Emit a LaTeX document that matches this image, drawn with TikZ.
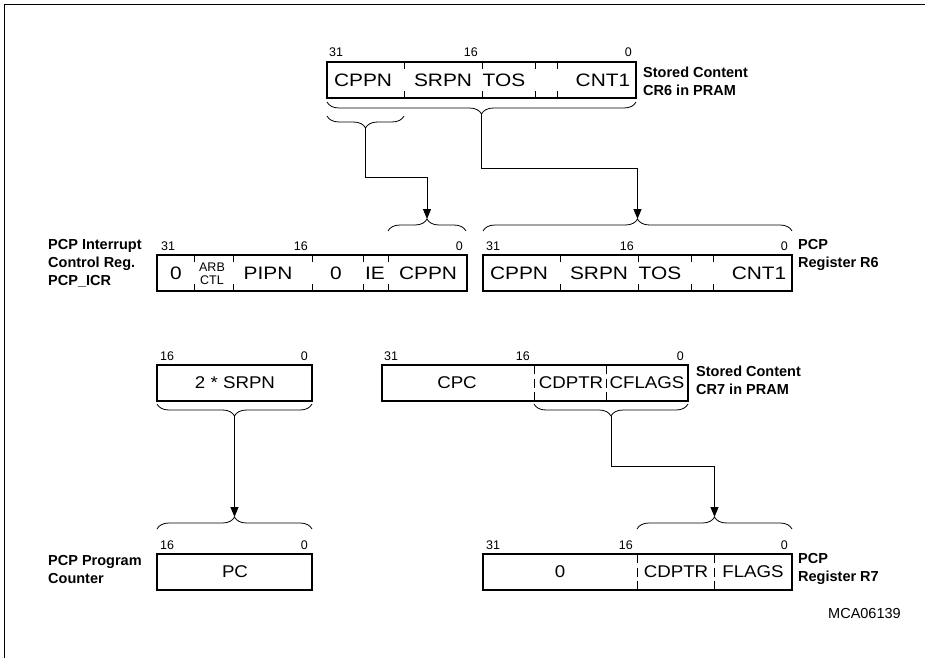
\documentclass[tikz,border=0pt]{standalone}
\usepackage{fontspec}
\setmainfont{Liberation Sans}
\newfontfamily\fieldfont[FakeStretch=1.1]{Liberation Sans}
\newfontfamily\widefont[FakeStretch=1.16]{Liberation Sans}
\usetikzlibrary{positioning,calc,arrows.meta,decorations.pathreplacing}

\begin{document}
\begin{tikzpicture}[x=1pt,y=-1pt,
  reg/.style={draw,line width=2.2pt,minimum height=36pt,inner sep=0pt},
  fld/.style={font=\fieldfont\fontsize{17}{20}\selectfont,inner sep=0pt},
  fldw/.style={font=\widefont\fontsize{18}{21}\selectfont,inner sep=0pt},
  arbtxt/.style={font=\fontsize{12.5}{12.5}\selectfont,inner sep=0pt,align=center},
  bit/.style={font=\fontsize{12.5}{14}\selectfont,inner sep=0pt},
  lbl/.style={font=\fontsize{14.5}{18}\selectfont\bfseries,align=left,inner sep=0pt,anchor=north west},
  tk/.style={line width=0.8pt},
  dsep/.style={line width=0.8pt,dash pattern=on 9pt off 4.5pt},
  brc/.style={decorate,decoration={brace,amplitude=12pt},line width=0.8pt},
  arr/.style={-{Triangle[length=10pt,width=8pt]},line width=0.9pt}]
  \useasboundingbox (0,0) rectangle (925,658);
  \draw[line width=0.9pt] (4,658) -- (4,4) -- (925,4);

  % stored content CR6
  \node[reg,minimum width=309pt] (cr6) at (481.5,80) {};
  \foreach \x in {404,482,535,557}
    \draw[tk] (\x,62) -- ++(0,7) (\x,98) -- ++(0,-7);
  \node[fldw] (cr6f1) at (363,80) {CPPN};
  \node[fldw] (cr6f2) at (443,80) {SRPN};
  \node[fldw] (cr6f3) at (504,80) {TOS};
  \node[fldw] (cr6f4) at (603,80) {CNT1};
  \node[bit,anchor=base west] (cr6b31) at (329,57) {31};
  \node[bit,anchor=base east] (cr6b16) at (478,57) {16};
  \node[bit,anchor=base east] (cr6b0)  at (632,57) {0};
  \node[lbl] (cr6lbl) at (643,67) {Stored Content\\CR6 in PRAM};
  \draw[brc] (636,102) -- (327,102);
  \coordinate (cr6tip) at (481.5,114);
  \draw[brc] (404,116) -- (327,116);
  \coordinate (cr6ltip) at (365.5,128);

  % PCP_ICR
  \node[reg,minimum width=310pt] (icr) at (312,273) {};
  \foreach \x in {194,233,312,363,388}
    \draw[tk] (\x,255) -- ++(0,7) (\x,291) -- ++(0,-7);
  \node[fldw] (icrf1) at (176,273) {0};
  \node[arbtxt] (icrf2) at (212,274) {ARB\\CTL};
  \node[fldw] (icrf3) at (268,273) {PIPN};
  \node[fldw] (icrf4) at (336,273) {0};
  \node[fldw] (icrf5) at (375,273) {IE};
  \node[fldw] (icrf6) at (428,273) {CPPN};
  \node[bit,anchor=base west] (icrb31) at (161,250) {31};
  \node[bit,anchor=base east] (icrb16) at (308,250) {16};
  \node[bit,anchor=base east] (icrb0)  at (463,250) {0};
  \node[lbl] (icrlbl) at (48,239) {PCP Interrupt\\Control Reg.\\PCP\_ICR};
  \draw[brc] (388,231) -- (466,231);
  \coordinate (icrtip) at (427,219);

  % PCP register R6
  \node[reg,minimum width=309pt] (r6) at (637.5,273) {};
  \foreach \x in {560,638,691,713}
    \draw[tk] (\x,255) -- ++(0,7) (\x,291) -- ++(0,-7);
  \node[fldw] (r6f1) at (519,273) {CPPN};
  \node[fldw] (r6f2) at (599,273) {SRPN};
  \node[fldw] (r6f3) at (660,273) {TOS};
  \node[fldw] (r6f4) at (759,273) {CNT1};
  \node[bit,anchor=base west] (r6b31) at (486,250) {31};
  \node[bit,anchor=base east] (r6b16) at (634,250) {16};
  \node[bit,anchor=base east] (r6b0)  at (788,250) {0};
  \node[lbl] (r6lbl) at (798,239) {PCP\\Register R6};
  \draw[brc] (483,231) -- (792,231);
  \coordinate (r6tip) at (637.5,219);

  % 2 * SRPN
  \node[reg,minimum width=155pt] (srpn) at (234.5,383) {};
  \node[fld] (srpnf) at (235,383) {2 * SRPN};
  \node[bit,anchor=base west] (srpnb16) at (160,360) {16};
  \node[bit,anchor=base east] (srpnb0)  at (308,360) {0};
  \draw[brc] (312,404) -- (157,404);
  \coordinate (srpntip) at (234.5,416);

  % stored content CR7
  \node[reg,minimum width=306pt] (cr7) at (535,383) {};
  \foreach \x in {534,606}
    \draw[dsep] (\x,365) -- (\x,401);
  \node[fld] (cr7f1) at (457,383) {CPC};
  \node[fld] (cr7f2) at (571,383) {CDPTR};
  \node[fld] (cr7f3) at (647,383) {CFLAGS};
  \node[bit,anchor=base west] (cr7b31) at (384,360) {31};
  \node[bit,anchor=base east] (cr7b16) at (530,360) {16};
  \node[bit,anchor=base east] (cr7b0)  at (684,360) {0};
  \node[lbl] (cr7lbl) at (696,366) {Stored Content\\CR7 in PRAM};
  \draw[brc] (688,404) -- (534,404);
  \coordinate (cr7tip) at (611,416);

  % program counter
  \node[reg,minimum width=155pt] (pc) at (234.5,572) {};
  \node[fld] (pcf) at (235,572) {PC};
  \node[bit,anchor=base west] (pcb16) at (160,549) {16};
  \node[bit,anchor=base east] (pcb0)  at (308,549) {0};
  \node[lbl] (pclbl) at (48,555) {PCP Program\\Counter};
  \draw[brc] (157,529) -- (312,529);
  \coordinate (pctip) at (234.5,517);

  % PCP register R7
  \node[reg,minimum width=309pt] (r7) at (637.5,572) {};
  \foreach \x in {637,714}
    \draw[dsep] (\x,554) -- (\x,590);
  \node[fld] (r7f1) at (560,572) {0};
  \node[fld] (r7f2) at (676,572) {CDPTR};
  \node[fld] (r7f3) at (753,572) {FLAGS};
  \node[bit,anchor=base west] (r7b31) at (486,549) {31};
  \node[bit,anchor=base east] (r7b16) at (633,549) {16};
  \node[bit,anchor=base east] (r7b0)  at (788,549) {0};
  \node[lbl] (r7lbl) at (798,553) {PCP\\Register R7};
  \draw[brc] (637,529) -- (792,529);
  \coordinate (r7tip) at (714.5,517);

  \node[font=\fontsize{14.5}{17}\selectfont,anchor=base west,inner sep=0pt] (figid) at (828,618) {MCA06139};

  % connections
  \draw[arr] (cr6ltip) -- ++(0,49) -| (icrtip);
  \draw[arr] (cr6tip) -- ++(0,54) -| (r6tip);
  \draw[arr] (srpntip) -- (pctip);
  \draw[arr] (cr7tip) -- ++(0,50) -| (r7tip);
\end{tikzpicture}
\end{document}
